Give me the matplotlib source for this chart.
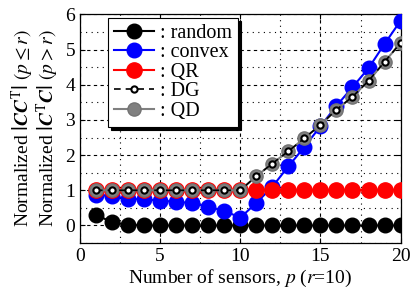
import numpy as np
import matplotlib.pyplot as plt
from matplotlib.ticker import MultipleLocator

# sensor-selection comparison: normalized determinant vs number of sensors

p = list(range(1, 21))
random_det = [0.31, 0.09, 0.02, 0, 0, 0, 0, 0, 0, 0,
              0, 0, 0, 0, 0, 0, 0, 0, 0, 0]
convex_det = [0.88, 0.83, 0.76, 0.74, 0.71, 0.67, 0.64, 0.53, 0.42, 0.22,
              0.64, 1.10, 1.68, 2.23, 2.82, 3.40, 3.93, 4.47, 5.16, 5.82]
qr_det = [1.0] * 20
dg_det = [1.0, 1.0, 1.0, 1.0, 1.0, 1.0, 1.0, 1.0, 1.0, 1.0,
          1.40, 1.76, 2.11, 2.48, 2.86, 3.29, 3.66, 4.11, 4.65, 5.19]
qd_det = dg_det

plt.rcParams['font.family'] = 'Liberation Serif'
plt.rcParams['mathtext.fontset'] = 'stix'
plt.rcParams['font.size'] = 14

fig = plt.figure(figsize=(4.16, 2.99), dpi=100)
ax = fig.add_axes([0.192, 0.187, 0.771, 0.765])

ax.plot(p, random_det, '-o', color='k', lw=1.5, ms=10.5, label=': random', zorder=3)
ax.plot(p, convex_det, '-o', color='b', lw=1.5, ms=10.5, label=': convex', zorder=4)
ax.plot(p, qr_det, '-o', color='r', lw=1.5, ms=11, label=': QR', zorder=5)
ax.plot(p, qd_det, '-o', color='0.5', mec='0.45', lw=1.5, ms=9.5, label=': QD', zorder=6)
ax.plot(p, dg_det, '--o', color='k', mfc='w', mec='k', mew=1.5, lw=1.2, ms=4.5,
        dashes=(4, 3), label=': DG', zorder=7)

ax.set_xlim(0, 20)
ax.set_ylim(-0.5, 6)
ax.xaxis.set_major_locator(MultipleLocator(5))
ax.xaxis.set_minor_locator(MultipleLocator(2.5))
ax.yaxis.set_major_locator(MultipleLocator(1))
ax.yaxis.set_minor_locator(MultipleLocator(0.5))
ax.grid(which='major', color='k', ls=(0, (3, 3)), lw=0.8)
ax.grid(which='minor', color='k', ls=(0, (1, 4)), lw=0.8)
ax.set_axisbelow(True)
ax.tick_params(which='both', direction='in', top=True, right=True)
ax.tick_params(which='minor', length=0)
for s in ax.spines.values():
    s.set_linewidth(0.9)

ax.set_xlabel(r'Number of sensors, $p$ ($r$=10)', labelpad=2)
ax.set_ylabel('Normalized $\\left|\\boldsymbol{CC}^{\\mathrm{T}}\\right|$ $(p \\leq r)$\n'
              'Normalized $\\left|\\boldsymbol{C}^{\\mathrm{T}}\\boldsymbol{C}\\right|$ $(p > r)$',
              labelpad=3, linespacing=0.95)

h, l = ax.get_legend_handles_labels()
order = [0, 1, 2, 4, 3]
leg = ax.legend([h[i] for i in order], [l[i] for i in order],
                loc='upper left', bbox_to_anchor=(0.087, 0.985), borderaxespad=0,
                fancybox=False, edgecolor='k', framealpha=1,
                shadow={'color': 'k', 'alpha': 1}, handlelength=2.0,
                handletextpad=0.3, labelspacing=0.02, borderpad=0.3,
                fontsize=14.5)
leg.get_frame().set_linewidth(0.8)
leg.set_zorder(10)

fig.savefig('out.png', dpi=100)
